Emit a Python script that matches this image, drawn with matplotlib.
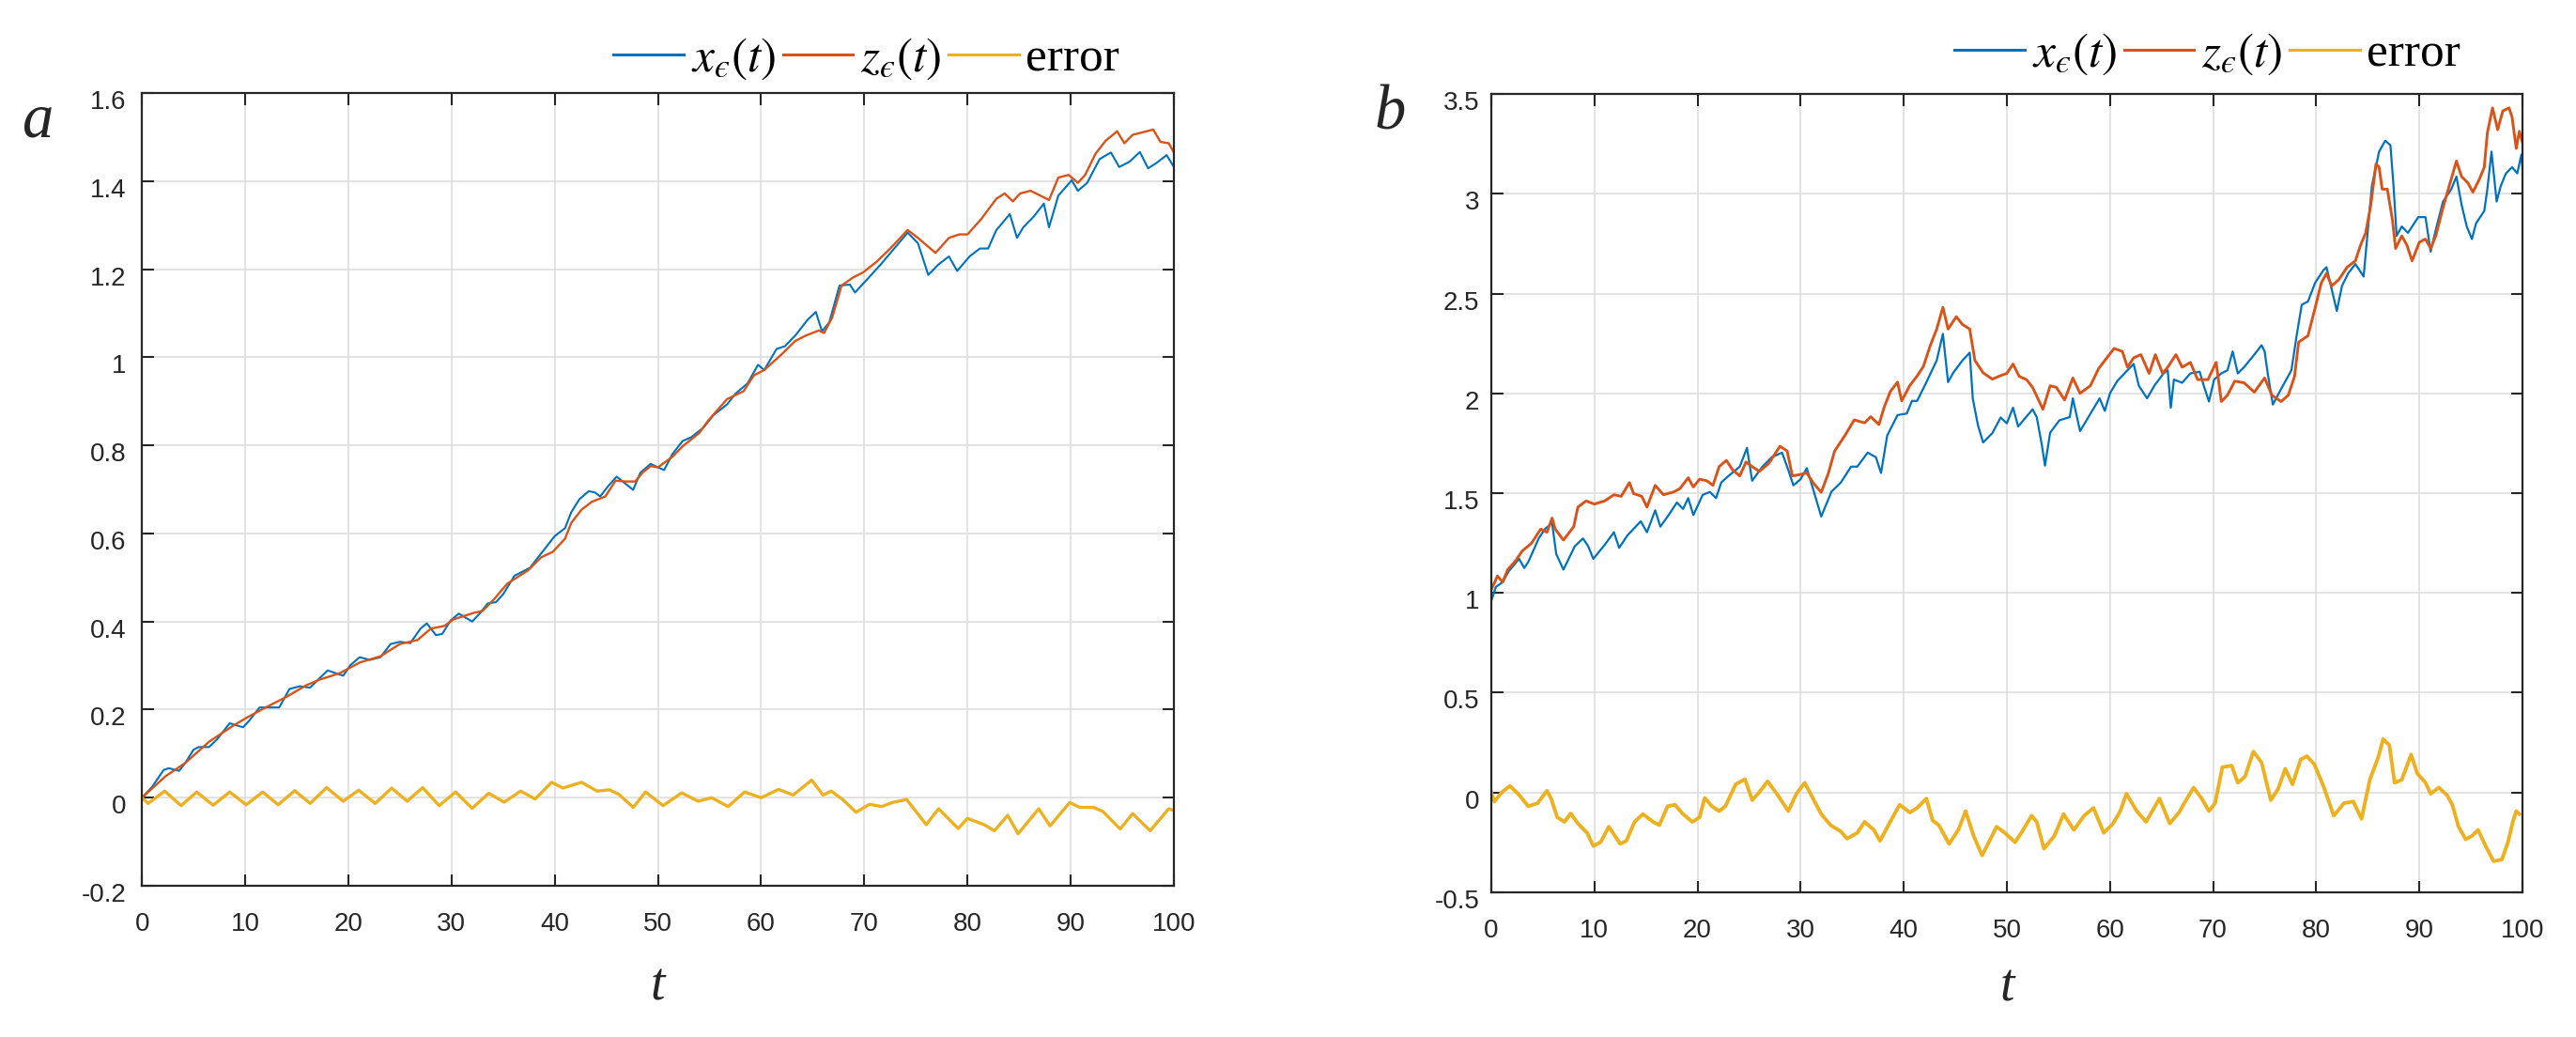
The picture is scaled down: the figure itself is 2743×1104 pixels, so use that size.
import matplotlib
matplotlib.use("Agg")
import matplotlib.pyplot as plt
from matplotlib.transforms import ScaledTranslation

plt.rcParams['font.family'] = ['Liberation Sans', 'DejaVu Sans']
plt.rcParams['mathtext.fontset'] = 'stix'

# ---- panel a ----
ta_x = [0, 1.0, 2.1, 2.6, 3.6, 4.2, 5.0, 5.5, 6.5, 7.3, 8.5, 9.8, 10.4, 11.4, 13.3, 14.3, 15.3, 16.3, 17.2, 18.0,
        19.5, 20.2, 21.1, 22.1, 23.1, 24.1, 25.0, 26.0, 27.0, 27.6, 28.5, 29.1, 29.9, 30.7, 32.0, 32.8, 33.5, 34.3, 35.0, 36.1,
        37.6, 38.4, 40.0, 41.0, 41.6, 42.4, 43.3, 43.9, 44.4, 45.2, 46.0, 46.8, 47.6, 48.3, 49.3, 50.0, 50.6, 51.4, 52.4, 53.2,
        54.4, 55.4, 56.7, 57.5, 58.7, 59.7, 60.3, 61.5, 62.3, 63.3, 64.5, 65.3, 65.9, 66.6, 67.6, 68.6, 69.1, 70.2, 71.6, 72.9,
        74.2, 75.2, 76.2, 77.2, 78.2, 79.0, 80.2, 81.2, 82.0, 82.8, 84.1, 84.8, 85.4, 86.4, 87.4, 87.9, 88.8, 90.1, 90.7, 91.6,
        92.8, 93.9, 94.7, 95.7, 96.7, 97.5, 98.3, 99.3, 100]
xa = [0, 0.025, 0.063, 0.067, 0.061, 0.079, 0.109, 0.115, 0.115, 0.133, 0.169, 0.160, 0.175, 0.205, 0.205, 0.247, 0.253, 0.250, 0.271, 0.289,
      0.277, 0.301, 0.319, 0.313, 0.319, 0.349, 0.354, 0.351, 0.384, 0.396, 0.369, 0.372, 0.402, 0.418, 0.400, 0.420, 0.441, 0.444, 0.462, 0.504,
      0.522, 0.546, 0.594, 0.612, 0.648, 0.678, 0.696, 0.693, 0.684, 0.708, 0.729, 0.714, 0.699, 0.738, 0.758, 0.750, 0.744, 0.780, 0.810, 0.818,
      0.840, 0.869, 0.893, 0.917, 0.941, 0.983, 0.971, 1.019, 1.025, 1.049, 1.085, 1.103, 1.059, 1.079, 1.163, 1.165, 1.147, 1.175, 1.211, 1.247,
      1.283, 1.259, 1.187, 1.211, 1.229, 1.196, 1.229, 1.247, 1.247, 1.289, 1.325, 1.271, 1.295, 1.319, 1.349, 1.295, 1.367, 1.402, 1.378, 1.396,
      1.450, 1.465, 1.432, 1.444, 1.466, 1.429, 1.441, 1.459, 1.432]

ta_z = [0, 2.3, 4.2, 6.5, 8.8, 10.1, 12.0, 14.0, 15.9, 17.2, 19.2, 21.1, 23.1, 25.0, 26.7, 28.0, 29.3, 30.2, 32.2, 33.0,
        34.1, 35.4, 37.4, 38.7, 39.8, 41.0, 41.6, 42.6, 43.6, 44.9, 45.9, 46.8, 47.8, 48.5, 49.3, 50.0, 51.4, 52.4, 54.0, 54.9,
        56.7, 58.3, 59.3, 60.3, 62.0, 63.3, 64.3, 65.6, 66.1, 66.9, 67.8, 68.9, 69.9, 71.2, 72.6, 74.2, 75.2, 76.9, 78.2, 79.2,
        80.0, 81.3, 82.8, 83.6, 84.4, 85.1, 86.1, 86.9, 87.9, 88.8, 89.8, 90.7, 91.4, 92.4, 93.4, 94.5, 95.2, 96.0, 97.0, 98.0,
        98.7, 99.5, 100]
za = [0, 0.049, 0.079, 0.127, 0.163, 0.181, 0.205, 0.229, 0.255, 0.268, 0.283, 0.307, 0.321, 0.349, 0.358, 0.384, 0.390, 0.405, 0.420, 0.424,
      0.450, 0.486, 0.516, 0.546, 0.558, 0.588, 0.624, 0.654, 0.672, 0.684, 0.720, 0.718, 0.718, 0.738, 0.753, 0.750, 0.774, 0.798, 0.828, 0.857,
      0.905, 0.923, 0.959, 0.971, 1.007, 1.037, 1.049, 1.061, 1.055, 1.091, 1.163, 1.181, 1.193, 1.217, 1.249, 1.289, 1.271, 1.237, 1.271, 1.279,
      1.279, 1.313, 1.360, 1.372, 1.354, 1.372, 1.378, 1.369, 1.357, 1.408, 1.414, 1.396, 1.414, 1.462, 1.492, 1.513, 1.486, 1.505, 1.511, 1.517,
      1.489, 1.486, 1.465]

ta_e = [0, 0.6, 2.2, 3.8, 5.3, 6.9, 8.5, 10.1, 11.7, 13.2, 14.8, 16.3, 17.9, 19.5, 21.0, 22.6, 24.2, 25.7, 27.2, 28.8,
        30.4, 32.0, 33.6, 35.1, 36.7, 38.1, 39.7, 40.8, 42.6, 44.1, 45.3, 46.2, 47.6, 48.8, 50.5, 52.3, 53.9, 55.2, 56.8, 58.4,
        60.0, 61.7, 63.1, 64.9, 66.0, 66.8, 67.9, 69.2, 70.5, 71.7, 72.7, 74.1, 76.0, 77.2, 79.1, 80.0, 81.6, 82.6, 83.9, 84.9,
        86.9, 88.0, 89.9, 90.9, 92.2, 93.1, 94.8, 96.0, 97.7, 99.5, 100]
ea = [0, -0.013, 0.015, -0.018, 0.013, -0.017, 0.013, -0.016, 0.013, -0.016, 0.016, -0.013, 0.023, -0.008, 0.017, -0.013, 0.022, -0.008, 0.023, -0.018,
      0.013, -0.024, 0.010, -0.010, 0.015, -0.003, 0.035, 0.022, 0.035, 0.015, 0.018, 0.008, -0.022, 0.013, -0.018, 0.011, -0.008, 0.0, -0.020, 0.013,
      0.0, 0.019, 0.006, 0.040, 0.006, 0.015, -0.004, -0.033, -0.015, -0.020, -0.011, -0.004, -0.061, -0.025, -0.070, -0.047, -0.061, -0.075, -0.040, -0.082,
      -0.025, -0.064, -0.011, -0.022, -0.022, -0.031, -0.071, -0.036, -0.075, -0.025, -0.029]

# ---- panel b ----
tb_x = [0, 0.45, 1.1, 1.7, 2.7, 3.2, 3.6, 4.6, 5.2, 5.9, 6.3, 7.0, 8.1, 8.9, 9.4, 9.9, 11.0, 11.9, 12.4, 13.2,
        14.5, 15.1, 15.9, 16.4, 17.2, 18.0, 18.6, 19.1, 19.6, 20.5, 21.2, 21.8, 22.3, 22.8, 24.1, 24.8, 25.3, 26.3, 27.2, 28.2,
        28.8, 29.3, 30.0, 30.6, 31.2, 32.0, 33.0, 33.9, 34.9, 35.5, 36.5, 37.3, 37.8, 38.4, 39.4, 40.3, 40.8, 41.3, 42.2, 43.2,
        43.8, 44.3, 44.8, 45.7, 46.4, 46.7, 47.2, 47.7, 48.6, 49.4, 50.0, 50.6, 51.1, 52.5, 52.9, 53.4, 53.7, 54.2, 55.1, 56.1,
        56.4, 57.1, 58.1, 59.0, 59.5, 60.0, 60.7, 61.7, 62.3, 62.8, 63.6, 64.3, 65.2, 65.6, 65.9, 66.2, 67.0, 67.8, 68.7, 69.1,
        69.6, 70.1, 70.8, 71.4, 71.9, 72.4, 73.0, 74.0, 74.7, 75.0, 75.3, 75.8, 76.6, 77.6, 78.1, 78.6, 79.2, 79.9, 80.7, 81.0,
        81.5, 82.0, 82.5, 83.1, 83.8, 84.6, 84.9, 85.4, 86.1, 86.7, 87.2, 87.5, 87.8, 88.3, 88.9, 89.9, 90.6, 91.1, 91.6, 92.3,
        93.1, 93.6, 94.1, 94.6, 95.1, 95.5, 96.3, 96.6, 97.0, 97.5, 97.9, 98.4, 99.0, 99.5, 99.9, 100]
xb = [0.96, 1.03, 1.054, 1.109, 1.171, 1.125, 1.156, 1.273, 1.320, 1.351, 1.195, 1.117, 1.234, 1.273, 1.234, 1.171, 1.241, 1.304, 1.226, 1.288,
      1.359, 1.304, 1.414, 1.332, 1.390, 1.453, 1.421, 1.475, 1.390, 1.491, 1.506, 1.475, 1.553, 1.577, 1.633, 1.727, 1.562, 1.633, 1.680, 1.703,
      1.617, 1.539, 1.570, 1.625, 1.523, 1.383, 1.508, 1.553, 1.633, 1.633, 1.703, 1.680, 1.601, 1.789, 1.891, 1.899, 1.962, 1.962, 2.056, 2.165,
      2.298, 2.056, 2.103, 2.165, 2.204, 1.973, 1.840, 1.754, 1.801, 1.879, 1.85, 1.928, 1.834, 1.920, 1.881, 1.740, 1.638, 1.803, 1.865, 1.881,
      1.975, 1.811, 1.897, 1.975, 1.912, 2.0, 2.061, 2.116, 2.147, 2.038, 1.975, 2.038, 2.100, 2.116, 1.928, 2.069, 2.053, 2.100, 2.108, 2.038,
      1.959, 2.069, 2.100, 2.116, 2.210, 2.100, 2.131, 2.194, 2.241, 2.210, 2.100, 1.944, 2.022, 2.116, 2.288, 2.444, 2.460, 2.554, 2.617, 2.632,
      2.523, 2.413, 2.538, 2.601, 2.648, 2.585, 2.757, 3.039, 3.211, 3.266, 3.243, 3.039, 2.789, 2.836, 2.804, 2.883, 2.883, 2.710, 2.820, 2.961,
      3.023, 3.086, 2.945, 2.836, 2.773, 2.851, 2.914, 3.023, 3.211, 2.961, 3.039, 3.102, 3.133, 3.102, 3.196, 3.133]

tb_z = [0, 0.6, 1.1, 1.6, 2.4, 3.0, 3.9, 4.8, 5.4, 5.9, 6.2, 7.0, 8.0, 8.4, 9.2, 10.0, 11.0, 11.9, 12.6, 13.4,
        13.8, 14.6, 15.1, 15.9, 16.7, 17.7, 18.3, 19.1, 19.6, 20.2, 20.9, 21.5, 22.1, 22.8, 23.4, 24.1, 24.7, 25.3, 26.0, 26.9,
        28.0, 28.7, 29.2, 30.0, 30.6, 31.2, 32.0, 32.7, 33.3, 34.3, 35.2, 36.2, 36.8, 37.6, 38.1, 38.7, 39.4, 39.8, 40.6, 41.3,
        41.9, 42.6, 43.2, 43.8, 44.3, 45.1, 45.7, 46.4, 46.9, 47.7, 48.6, 49.3, 50.0, 50.6, 51.2, 51.9, 52.5, 53.5, 54.2, 54.8,
        55.6, 56.4, 57.1, 58.1, 58.9, 59.7, 60.4, 61.2, 61.7, 62.3, 63.0, 63.8, 64.4, 65.1, 65.6, 66.4, 67.0, 67.8, 68.5, 69.5,
        70.3, 70.8, 71.4, 72.1, 73.0, 74.0, 75.0, 75.7, 76.6, 77.3, 77.9, 78.3, 79.2, 79.9, 80.5, 81.0, 81.5, 82.2, 83.0, 83.8,
        84.3, 84.8, 85.3, 85.8, 86.1, 86.4, 86.9, 87.4, 87.7, 88.3, 88.8, 89.3, 90.0, 90.6, 91.1, 91.6, 92.3, 92.9, 93.6, 94.1,
        94.7, 95.2, 95.8, 96.3, 96.6, 97.1, 97.6, 98.1, 98.7, 99.0, 99.4, 99.7, 100]
zb = [1.015, 1.085, 1.054, 1.117, 1.164, 1.210, 1.249, 1.320, 1.304, 1.375, 1.320, 1.265, 1.332, 1.430, 1.461, 1.445, 1.461, 1.492, 1.484, 1.553,
      1.498, 1.484, 1.430, 1.539, 1.492, 1.506, 1.523, 1.577, 1.531, 1.570, 1.562, 1.539, 1.633, 1.664, 1.617, 1.586, 1.656, 1.633, 1.609, 1.648,
      1.735, 1.711, 1.586, 1.594, 1.601, 1.553, 1.504, 1.601, 1.711, 1.789, 1.867, 1.852, 1.883, 1.844, 1.930, 2.009, 2.056, 1.962, 2.040, 2.087,
      2.134, 2.243, 2.322, 2.431, 2.322, 2.384, 2.345, 2.322, 2.165, 2.103, 2.071, 2.087, 2.100, 2.147, 2.085, 2.069, 2.030, 1.920, 2.038, 2.030,
      1.967, 2.077, 2.0, 2.038, 2.124, 2.178, 2.225, 2.210, 2.131, 2.178, 2.194, 2.100, 2.194, 2.100, 2.131, 2.194, 2.131, 2.155, 2.069, 2.069,
      2.155, 1.959, 1.991, 2.061, 2.053, 2.006, 2.077, 1.991, 1.959, 1.991, 2.085, 2.257, 2.288, 2.429, 2.554, 2.601, 2.538, 2.570, 2.632, 2.664,
      2.742, 2.804, 2.945, 3.149, 3.133, 3.023, 3.023, 2.867, 2.726, 2.789, 2.742, 2.664, 2.757, 2.773, 2.726, 2.789, 2.930, 3.039, 3.164, 3.086,
      3.055, 3.008, 3.070, 3.133, 3.305, 3.430, 3.321, 3.415, 3.430, 3.383, 3.227, 3.313, 3.258]

tb_e = [0, 0.3, 1.0, 1.8, 2.6, 3.6, 4.5, 5.4, 5.8, 6.4, 7.1, 7.7, 8.4, 9.3, 9.9, 10.6, 11.4, 12.5, 13.1, 13.9,
        14.7, 15.7, 16.3, 17.1, 17.8, 18.6, 19.5, 20.2, 20.7, 21.4, 22.1, 22.7, 23.7, 24.6, 25.3, 26.0, 26.8, 27.8, 28.8, 29.6,
        30.4, 31.2, 32.0, 32.9, 33.9, 34.5, 35.5, 36.2, 37.1, 37.7, 38.6, 39.6, 40.6, 41.3, 42.2, 42.8, 43.4, 44.4, 45.3, 46.0,
        46.8, 47.6, 48.4, 49.0, 49.8, 50.8, 51.4, 52.4, 52.9, 53.6, 54.6, 55.5, 56.5, 57.5, 58.4, 59.4, 60.3, 61.0, 61.6, 62.6,
        63.5, 64.8, 65.8, 66.7, 67.3, 68.1, 68.9, 69.6, 70.2, 70.9, 71.8, 72.4, 73.1, 73.9, 74.7, 75.6, 76.3, 77.0, 77.7, 78.5,
        79.1, 79.8, 80.7, 81.7, 82.7, 83.6, 84.4, 85.2, 86.0, 86.5, 87.1, 87.6, 88.3, 89.2, 89.8, 90.6, 91.1, 91.9, 92.7, 93.2,
        93.8, 94.5, 95.1, 95.7, 96.4, 97.2, 98.0, 98.6, 99.1, 99.4, 99.7]
eb = [0, -0.045, 0.0, 0.033, -0.006, -0.069, -0.053, 0.009, -0.030, -0.124, -0.147, -0.105, -0.155, -0.202, -0.268, -0.249, -0.171, -0.257, -0.242, -0.147,
      -0.108, -0.147, -0.163, -0.069, -0.061, -0.108, -0.147, -0.124, -0.027, -0.069, -0.093, -0.069, 0.041, 0.067, -0.038, 0.002, 0.056, -0.014, -0.093, -0.006,
      0.049, -0.030, -0.108, -0.163, -0.195, -0.231, -0.202, -0.147, -0.187, -0.242, -0.155, -0.061, -0.100, -0.077, -0.030, -0.140, -0.163, -0.257, -0.187, -0.093,
      -0.220, -0.315, -0.234, -0.171, -0.202, -0.249, -0.202, -0.116, -0.147, -0.281, -0.218, -0.108, -0.187, -0.116, -0.077, -0.202, -0.155, -0.093, -0.006, -0.093,
      -0.147, -0.030, -0.155, -0.100, -0.045, 0.025, -0.030, -0.093, -0.053, 0.127, 0.135, 0.049, 0.080, 0.205, 0.151, -0.038, 0.017, 0.119, 0.041, 0.166,
      0.182, 0.143, 0.033, -0.116, -0.053, -0.045, -0.132, 0.064, 0.174, 0.268, 0.237, 0.049, 0.064, 0.190, 0.096, 0.049, -0.006, 0.025, -0.014, -0.061,
      -0.171, -0.234, -0.218, -0.187, -0.265, -0.344, -0.336, -0.249, -0.140, -0.093, -0.108]

xticks = list(range(0, 101, 10))
yticks_a = [-0.2, 0, 0.2, 0.4, 0.6, 0.8, 1.0, 1.2, 1.4, 1.6]
ylabels_a = ['-0.2', '0', '0.2', '0.4', '0.6', '0.8', '1', '1.2', '1.4', '1.6']
yticks_b = [-0.5, 0, 0.5, 1.0, 1.5, 2.0, 2.5, 3.0, 3.5]
ylabels_b = ['-0.5', '0', '0.5', '1', '1.5', '2', '2.5', '3', '3.5']

# lunate epsilon, as in the original legend
labels = ['$x_{\u03f5}(t)$', '$z_{\u03f5}(t)$', 'error']
colors = ['#0072BD', '#D95319', '#EDB120']
dark = '#262626'

fig = plt.figure(figsize=(27.43, 11.04), dpi=100)
ax_a = fig.add_axes([0.0551, 0.1458, 0.4006, 0.7645])
ax_b = fig.add_axes([0.5789, 0.1395, 0.4003, 0.7699])


def style(ax, yticks, ylabels, ypad, xlab_y):
    ax.set_xlim(0, 100)
    ax.set_ylim(yticks[0], yticks[-1])
    ax.set_xticks(xticks)
    ax.set_yticks(yticks)
    ax.set_yticklabels(ylabels)
    ax.grid(True, color='#dedede', linewidth=1.2)
    ax.set_axisbelow(True)
    ax.tick_params(direction='in', length=9, width=1.5, top=True, right=True,
                   labelsize=20, colors=dark)
    ax.tick_params(axis='x', pad=20)
    ax.tick_params(axis='y', pad=ypad)
    for s in ax.spines.values():
        s.set_color(dark)
        s.set_linewidth(1.6)
    # MATLAB-style: y labels sit a little below their ticks
    shift = ScaledTranslation(0, -0.07, fig.dpi_scale_trans)
    for lab in ax.get_yticklabels():
        lab.set_transform(lab.get_transform() + shift)
    ax.set_xlabel('t', family='Liberation Serif', style='italic', fontsize=40, color=dark)
    ax.xaxis.label.set_va('center')
    ax.xaxis.set_label_coords(0.5, xlab_y)


# panel a
ax_a.plot(ta_x, xa, color=colors[0], lw=1.5, label=labels[0])
ax_a.plot(ta_z, za, color=colors[1], lw=1.7, label=labels[1])
ax_a.plot(ta_e, ea, color=colors[2], lw=2.4, label=labels[2])
style(ax_a, yticks_a, ylabels_a, 12, -0.127)

# panel b
ax_b.plot(tb_x, xb, color=colors[0], lw=1.6, label=labels[0])
ax_b.plot(tb_z, zb, color=colors[1], lw=2.1, label=labels[1])
ax_b.plot(tb_e, eb, color=colors[2], lw=2.8, label=labels[2])
style(ax_b, yticks_b, ylabels_b, 9, -0.12)

for ax, anchor in [(ax_a, (0.4346, 0.943)), (ax_b, (0.9552, 0.9475))]:
    leg = ax.legend(loc='center right', bbox_to_anchor=anchor, bbox_transform=fig.transFigure,
                    ncol=3, frameon=False, borderpad=0, borderaxespad=0,
                    handlelength=1.45, handletextpad=0.15, columnspacing=0.15,
                    prop={'family': 'Liberation Serif', 'size': 37})
    for h in leg.legend_handles:
        h.set_linewidth(2.2)

fig.text(23 / 2743, 1 - 145 / 1104, 'a', family='Liberation Serif', style='italic',
         fontsize=48, ha='left', va='baseline', color=dark)
fig.text(1464 / 2743, 1 - 138 / 1104, 'b', family='Liberation Serif', style='italic',
         fontsize=48, ha='left', va='baseline', color=dark)

fig.savefig('out.png', dpi=100, facecolor='white')
